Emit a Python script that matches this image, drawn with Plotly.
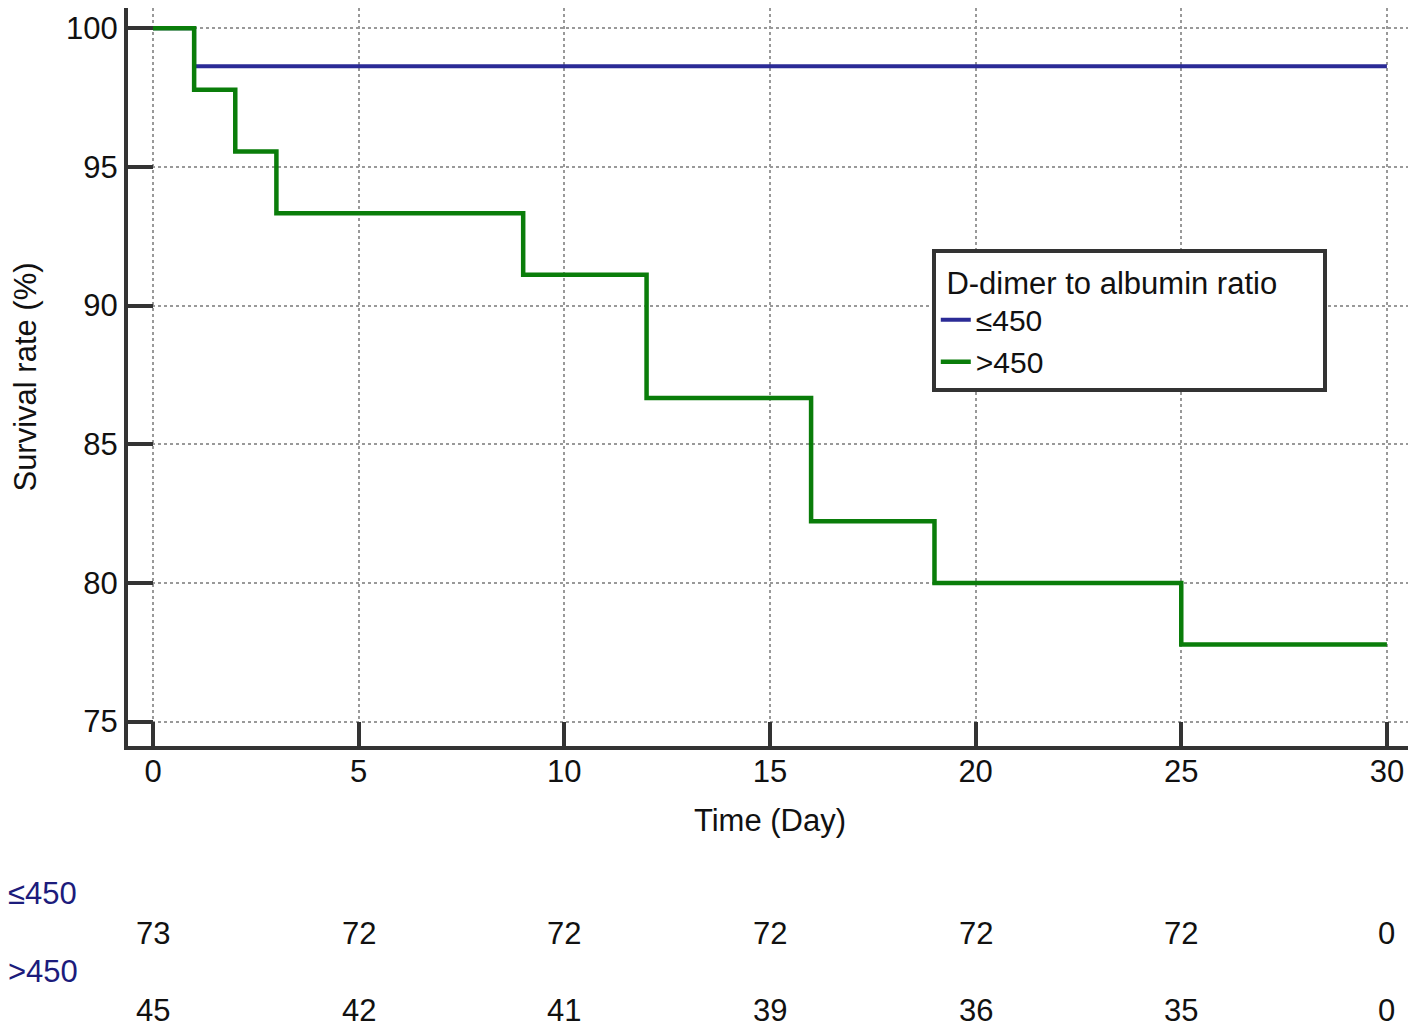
import plotly.graph_objects as go

# Kaplan-Meier steps
days_low = [0, 1, 30]
surv_low = [100, 98.63, 98.63]

days_high = [0, 1, 2, 3, 9, 12, 16, 19, 25, 30]
surv_high = [100, 97.78, 95.56, 93.33, 91.11, 86.67, 82.22, 80.0, 77.78, 77.78]

# number at risk table
risk_days = [0, 5, 10, 15, 20, 25, 30]
risk_low = [73, 72, 72, 72, 72, 72, 0]
risk_high = [45, 42, 41, 39, 36, 35, 0]

group_names = ["≤450", ">450"]

FONT = "Liberation Sans, Arial, sans-serif"
AXIS = "#333333"
FS = 31
NB = "\u00a0"

fig = go.Figure()

fig.add_trace(go.Scatter(
    x=days_low, y=surv_low, mode="lines", line_shape="hv",
    line=dict(color="#2b2b96", width=4), name=group_names[0]
))
fig.add_trace(go.Scatter(
    x=days_high, y=surv_high, mode="lines", line_shape="hv",
    line=dict(color="#0a7d0a", width=4.5), name=group_names[1]
))

# number-at-risk rows below the plot
row_shift = {0: (-147, -187), 1: (-225, -264)}
for g, counts in enumerate([risk_low, risk_high]):
    head_shift, num_shift = row_shift[g]
    fig.add_annotation(
        text=group_names[g], xref="paper", yref="paper", x=0, y=0,
        xanchor="left", yanchor="middle", xshift=-122, yshift=head_shift,
        showarrow=False, font=dict(family=FONT, size=FS, color="#1c1c7c")
    )
    for d, n in zip(risk_days, counts):
        fig.add_annotation(
            text=str(n), xref="x", yref="paper", x=d, y=0,
            xanchor="center", yanchor="middle", yshift=num_shift,
            showarrow=False, font=dict(family=FONT, size=FS, color="#111111")
        )

fig.update_xaxes(
    range=[-0.608, 30.61], tickvals=risk_days,
    showline=True, linecolor=AXIS, linewidth=4,
    ticks="inside", ticklen=24, tickwidth=4, tickcolor=AXIS,
    ticklabelstandoff=-5,
    showgrid=True, gridcolor="#999999", gridwidth=1.5, griddash="dot",
    zeroline=False,
    title=dict(text="Time (Day)", standoff=22, font=dict(size=FS)),
    tickfont=dict(size=FS)
)
fig.update_yaxes(
    range=[74.12, 100.73], tickvals=[75, 80, 85, 90, 95, 100],
    showline=True, linecolor=AXIS, linewidth=4,
    ticks="inside", ticklen=25, tickwidth=4, tickcolor=AXIS,
    ticklabelstandoff=0,
    showgrid=True, gridcolor="#999999", gridwidth=1.5, griddash="dot",
    zeroline=False,
    title=dict(text="Survival rate (%)", standoff=24, font=dict(size=FS)),
    tickfont=dict(size=FS)
)

# page body adds an 8px offset, so the figure is drawn 8px smaller
fig.update_layout(
    width=1408, height=1016,
    margin=dict(l=120, r=4, t=0, b=278),
    plot_bgcolor="white", paper_bgcolor="white",
    font=dict(family=FONT, size=FS, color="#111111"),
    legend=dict(
        title=dict(text=NB + "D-dimer to albumin ratio" + NB * 5, font=dict(size=FS)),
        x=0.626, y=0.673, xanchor="left", yanchor="top",
        bgcolor="white", bordercolor=AXIS, borderwidth=4,
        font=dict(size=30), tracegroupgap=0
    ),
    showlegend=True
)

fig.write_html("out.html")
